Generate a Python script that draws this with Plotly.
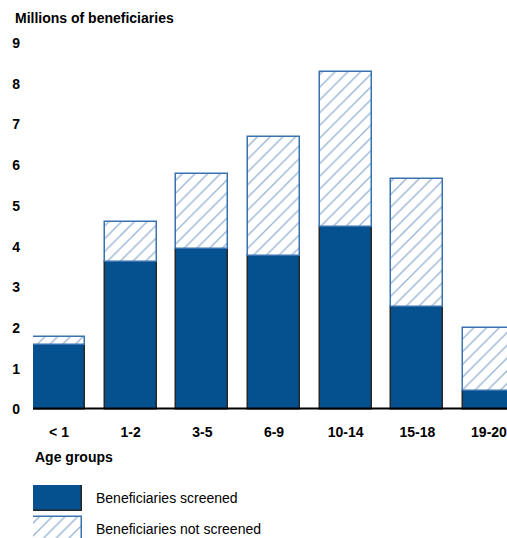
import plotly.graph_objects as go

# Medicaid beneficiaries by age group (millions)
age_groups = ["< 1", "1-2", "3-5", "6-9", "10-14", "15-18", "19-20"]
screened = [1.58, 3.61, 3.94, 3.77, 4.48, 2.52, 0.45]
total = [1.79, 4.61, 5.79, 6.68, 8.28, 5.67, 2.01]
not_screened = [t - s for t, s in zip(total, screened)]

y_ticks = list(range(0, 10))

DARK_BLUE = "#05508F"
HATCH_BLUE = "#2F68A8"
OUTLINE_BLUE = "#3A72B0"
OUTLINE_DARK = "#262626"
FONT = "Liberation Sans, Arial, sans-serif"

W, H = 507, 538
M_L, M_T = 33, 43
plot_w = W - M_L
plot_h = H - M_T
zero_px = 409.5
main_bottom = (H - zero_px) / plot_h
legend_top_px = 485
legend_dom = (H - legend_top_px) / plot_h

x_idx = list(range(len(age_groups)))
bar_w = 0.726

hatch = dict(shape="/", fgcolor=HATCH_BLUE, bgcolor="white", size=9, solidity=0.15)

fig = go.Figure()

fig.add_trace(go.Bar(
    x=x_idx, y=screened, width=bar_w,
    marker=dict(color=DARK_BLUE, line=dict(color=OUTLINE_DARK, width=1.5)),
    name="Beneficiaries screened", showlegend=False,
))
fig.add_trace(go.Bar(
    x=x_idx, y=not_screened, base=screened, width=bar_w,
    marker=dict(color="white", line=dict(color=OUTLINE_BLUE, width=1.5), pattern=hatch),
    name="Beneficiaries not screened", showlegend=False,
))

# Legend swatches drawn on a small pixel-scaled subplot
fig.add_trace(go.Bar(
    x=[24.5], y=[26], base=[27], width=[49], xaxis="x2", yaxis="y2",
    marker=dict(color=DARK_BLUE, line=dict(color=OUTLINE_DARK, width=1.5)),
    showlegend=False, hoverinfo="skip",
))
fig.add_trace(go.Bar(
    x=[24.5], y=[26], base=[-5], width=[49], xaxis="x2", yaxis="y2",
    marker=dict(color="white", line=dict(color=OUTLINE_BLUE, width=1.5), pattern=hatch),
    showlegend=False, hoverinfo="skip",
))

bold = dict(family=FONT, size=14, color="black", weight="bold")
regular = dict(family=FONT, size=14, color="black")

fig.update_layout(
    width=W, height=H,
    margin=dict(l=M_L, r=0, t=M_T, b=0, autoexpand=False),
    paper_bgcolor="white", plot_bgcolor="white",
    barmode="overlay", bargap=0,
    showlegend=False,
    xaxis=dict(
        domain=[0, 1], range=[-bar_w / 2, -bar_w / 2 + plot_w / 71.66],
        tickmode="array", tickvals=x_idx, ticktext=age_groups,
        tickfont=bold, ticks="", showgrid=False, zeroline=False,
        showline=False, ticklabelstandoff=12, ticklabeloverflow="allow",
        anchor="y", automargin=False,
    ),
    yaxis=dict(
        domain=[main_bottom, 1], range=[0, 9],
        tickmode="array", tickvals=y_ticks, ticktext=[str(v) for v in y_ticks],
        tickfont=bold, ticks="", showgrid=False, zeroline=False,
        showline=False, ticklabelstandoff=12, anchor="x", automargin=False,
    ),
    xaxis2=dict(domain=[0, 1], range=[0, plot_w], visible=False,
                anchor="y2", fixedrange=True),
    yaxis2=dict(domain=[0, legend_dom], range=[0, H - legend_top_px],
                visible=False, anchor="x2", fixedrange=True),
    shapes=[dict(type="line", xref="paper", yref="y", x0=0, x1=1, y0=0, y1=0,
                 line=dict(color="black", width=4), layer="above")],
    annotations=[
        dict(text="Millions of beneficiaries", xref="paper", yref="paper",
             x=(13 - M_L) / plot_w, y=1 + (M_T - 18) / plot_h,
             xanchor="left", yanchor="middle", showarrow=False, font=bold),
        dict(text="Age groups", xref="paper", yref="paper",
             x=0, y=(H - 457) / plot_h,
             xanchor="left", yanchor="middle", showarrow=False, font=bold),
        dict(text="Beneficiaries screened", xref="paper", yref="paper",
             x=(94 - M_L) / plot_w, y=(H - 498.3) / plot_h,
             xanchor="left", yanchor="middle", showarrow=False, font=regular),
        dict(text="Beneficiaries not screened", xref="paper", yref="paper",
             x=(94 - M_L) / plot_w, y=(H - 529.3) / plot_h,
             xanchor="left", yanchor="middle", showarrow=False, font=regular),
    ],
)

fig.write_html("out.html", config={"displayModeBar": False})
